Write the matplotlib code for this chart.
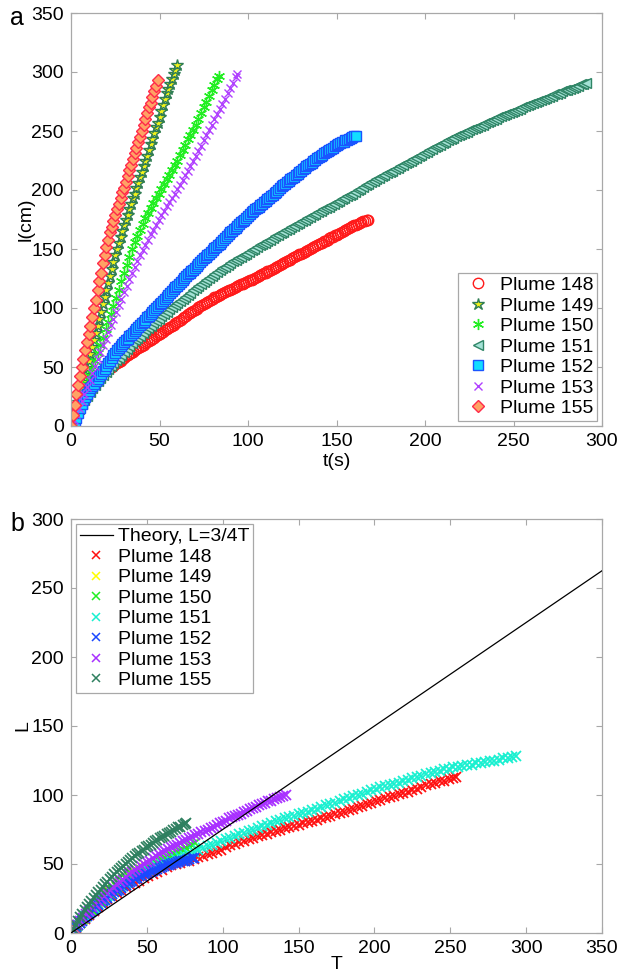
import numpy as np
import matplotlib
matplotlib.use("Agg")
import matplotlib.pyplot as plt

plt.rcParams['font.family'] = ['Liberation Sans', 'DejaVu Sans']
plt.rcParams['font.size'] = 14

# ---------- panel a : l(cm) against t(s) ----------
a148 = [(0, 0), (1, 4), (2, 8), (3, 11.5), (4, 15), (5, 18), (6, 21), (7, 23.5), (8, 26), (9, 28.5),
        (10, 31), (11, 33), (12, 35), (13, 37), (14, 38.5), (15, 40), (16, 41.5), (17, 43), (18, 44), (19, 45.5),
        (20, 46.5), (21, 48), (22, 49), (23, 50), (24, 51), (25, 52.5), (26, 53.5), (27, 54.5), (28, 55.5), (29, 57),
        (30, 58), (31, 59), (32, 60), (33, 61), (34, 62), (35, 63), (36, 64), (37, 65), (38, 66), (39, 67),
        (40, 68), (41, 69), (42, 70), (43, 71), (44, 72), (45, 73), (46, 74), (47, 75), (48, 76), (49, 77),
        (50, 78), (51, 79), (52, 80), (53, 81), (54, 82), (55, 83), (56, 84), (57, 85), (58, 86), (59, 87),
        (60, 88), (61, 89), (62, 90), (63, 91.5), (64, 92.5), (65, 93.5), (66, 94.5), (67, 95.5), (68, 96.5),
        (69, 97.5), (70, 98.5), (71, 99.5), (72, 100.5), (73, 101.5), (74, 102.5), (75, 103.5), (76, 104.5),
        (77, 105), (78, 106), (79, 107), (80, 108), (81, 109), (82, 109.5), (83, 110.5), (84, 111), (85, 112),
        (86, 112.5), (87, 113.5), (88, 114), (89, 115), (90, 115.5), (91, 116.5), (92, 117), (93, 118), (94, 118.5),
        (95, 119.5), (96, 120), (97, 120.5), (98, 121), (99, 122), (100, 122.5), (101, 123.5), (102, 124),
        (103, 125), (104, 125.5), (105, 126.5), (106, 127), (107, 128), (108, 128.5), (109, 129.5), (110, 130),
        (111, 131), (112, 131.5), (113, 132.5), (114, 133), (115, 134), (116, 135), (117, 136), (118, 136.5),
        (119, 137.5), (120, 138), (121, 139), (122, 139.5), (123, 140.5), (124, 141), (125, 142), (126, 143),
        (127, 144), (128, 144.5), (129, 145.5), (130, 146), (131, 147), (132, 147.5), (133, 148.5), (134, 149),
        (135, 150), (136, 151), (137, 152), (138, 152.5), (139, 153.5), (140, 154), (141, 155), (142, 155.5),
        (143, 156.5), (144, 157), (145, 158), (146, 159), (147, 160), (148, 160.5), (149, 161.5), (150, 162),
        (151, 163), (152, 163.5), (153, 164.5), (154, 165), (155, 166), (156, 167), (157, 168), (158, 168.5),
        (159, 169.5), (160, 170), (161, 170.5), (162, 171), (163, 172), (164, 172.5), (165, 173.5), (166, 174),
        (167, 174.5), (168, 175)]

a149 = [(0, 0), (1, 5), (2, 10), (3, 15), (4, 20), (5, 25), (6, 31), (7, 37), (8, 43), (9, 49),
        (10, 55), (11, 61), (12, 67), (13, 73), (14, 79), (15, 85), (16, 91), (17, 97), (18, 103), (19, 109),
        (20, 115), (21, 121), (22, 127), (23, 133), (24, 139), (25, 145), (26, 150), (27, 155), (28, 160), (29, 165),
        (30, 170), (31, 175), (32, 179), (33, 184), (34, 188), (35, 193), (36, 197), (37, 202), (38, 206), (39, 211),
        (40, 215), (41, 220), (42, 225), (43, 229), (44, 234), (45, 239), (46, 243), (47, 248), (48, 253), (49, 257),
        (50, 262), (51, 267), (52, 272), (53, 277), (54, 282), (55, 286), (56, 290), (57, 294), (58, 298), (59, 302),
        (60, 306)]

a150 = [(0, 0), (1.5, 5), (3, 10.5), (4.5, 16), (6, 22), (7.5, 29), (9, 35.5), (10.5, 42), (12, 48.5), (13.5, 55.5),
        (15, 62), (16.5, 68.5), (18, 75), (19.5, 82), (21, 88.5), (22.5, 95), (24, 101.5), (25.5, 108.5),
        (27, 115.5), (28.5, 123), (30, 130), (31.5, 136.5), (33, 143), (34.5, 150), (36, 156), (37.5, 161),
        (39, 166.5), (40.5, 171.5), (42, 176), (43.5, 180.5), (45, 185), (46.5, 189), (48, 193), (49.5, 196.5),
        (51, 201), (52.5, 205), (54, 209), (55.5, 213), (57, 217), (58.5, 221), (60, 225), (61.5, 229.5),
        (63, 234), (64.5, 238.5), (66, 243), (67.5, 247), (69, 251), (70.5, 255.5), (72, 260.5), (73.5, 265),
        (75, 270), (76.5, 275), (78, 279.5), (79.5, 284.5), (81, 289), (82.5, 294), (83.5, 297)]

a151 = [(0, 0), (1.5, 5.5), (3, 10), (4.5, 14.5), (6, 18.5), (7.5, 22), (9, 25.5), (10.5, 29), (12, 32),
        (13.5, 35), (15, 38), (16.5, 41), (18, 43.5), (19.5, 46), (21, 48.5), (22.5, 51), (24, 53.5), (25.5, 56),
        (27, 58), (28.5, 60.5), (30, 63), (31.5, 65.5), (33, 68), (34.5, 70.5), (36, 72.5), (37.5, 74.5),
        (39, 76.5), (40.5, 79), (42, 81), (43.5, 83), (45, 85), (46.5, 87), (48, 89), (49.5, 91), (51, 93),
        (52.5, 95), (54, 97), (55.5, 99), (57, 100.5), (58.5, 102.5), (60, 104), (61.5, 106), (63, 107.5),
        (64.5, 109.5), (66, 111), (67.5, 113), (69, 115), (70.5, 117), (72, 118.5), (73.5, 120.5), (75, 122),
        (76.5, 124), (78, 125.5), (79.5, 127.5), (81, 129), (82.5, 130.5), (84, 132), (85.5, 133.5), (87, 135),
        (88.5, 136.5), (90, 138), (91.5, 139.5), (93, 141), (94.5, 142), (96, 143.5), (97.5, 145), (99, 146),
        (100.5, 147.5), (102, 149), (103.5, 150), (105, 151.5), (106.5, 153), (108, 154), (109.5, 155.5),
        (111, 157), (112.5, 158), (114, 159.5), (115.5, 161), (117, 162), (118.5, 163.5), (120, 164.5),
        (121.5, 166), (123, 167), (124.5, 168.5), (126, 169.5), (127.5, 171), (129, 172), (130.5, 173.5),
        (132, 174.5), (133.5, 176), (135, 177), (136.5, 178.5), (138, 179.5), (139.5, 181), (141, 182),
        (142.5, 183.5), (144, 184.5), (145.5, 186), (147, 187), (148.5, 188.5), (150, 189.5), (151.5, 191),
        (153, 192), (154.5, 193.5), (156, 194.5), (157.5, 196), (159, 197), (160.5, 198.5), (162, 200),
        (163.5, 201), (165, 202.5), (166.5, 204), (168, 205), (169.5, 206.5), (171, 207.5), (172.5, 209),
        (174, 210), (175.5, 211.5), (177, 212.5), (178.5, 214), (180, 215), (181.5, 216.5), (183, 217.5),
        (184.5, 219), (186, 220), (187.5, 221.5), (189, 222.5), (190.5, 224), (192, 225), (193.5, 226.5),
        (195, 227.5), (196.5, 229), (198, 230), (199.5, 231.5), (201, 232.5), (202.5, 234), (204, 235),
        (205.5, 236.5), (207, 237.5), (208.5, 238.5), (210, 239.5), (211.5, 241), (213, 242), (214.5, 243),
        (216, 244), (217.5, 245.5), (219, 246.5), (220.5, 247.5), (222, 248.5), (223.5, 249.5), (225, 250.5),
        (226.5, 251.5), (228, 252.5), (229.5, 253.5), (231, 254.5), (232.5, 255.5), (234, 256.5), (235.5, 257.5),
        (237, 258.5), (238.5, 259.5), (240, 260.5), (241.5, 261.5), (243, 262.5), (244.5, 263.5), (246, 264.5),
        (247.5, 265.5), (249, 266.5), (250.5, 267), (252, 268), (253.5, 269), (255, 270), (256.5, 271),
        (258, 272), (259.5, 273), (261, 274), (262.5, 274.5), (264, 275.5), (265.5, 276.5), (267, 277.5),
        (268.5, 278), (270, 279), (271.5, 280), (273, 281), (274.5, 281.5), (276, 282.5), (277.5, 283.5),
        (279, 284.5), (280.5, 285), (282, 286), (283.5, 286.5), (285, 287.5), (286.5, 288.5), (288, 289.5),
        (289.5, 290), (291, 291)]

a152 = [(1, 0), (2, 3), (3, 7), (4, 11), (5, 15), (6, 18.5), (7, 22), (8, 25), (9, 27.5), (10, 30),
        (11, 32), (12, 34), (13, 36), (14, 38), (15, 40), (16, 42), (17, 44), (18, 46.5), (19, 48.5), (20, 51),
        (21, 53), (22, 55.5), (23, 57.5), (24, 60), (25, 62), (26, 64), (27, 66), (28, 67.5), (29, 69.5), (30, 71),
        (31, 72.5), (32, 74), (33, 76), (34, 77.5), (35, 79), (36, 80.5), (37, 82), (38, 84), (39, 85.5), (40, 87),
        (41, 88.5), (42, 90), (43, 92), (44, 93.5), (45, 95), (46, 96.5), (47, 98), (48, 100), (49, 101.5),
        (50, 103), (51, 104.5), (52, 106), (53, 108), (54, 109.5), (55, 111), (56, 112.5), (57, 114), (58, 116),
        (59, 117.5), (60, 119), (61, 120.5), (62, 122), (63, 124), (64, 125.5), (65, 127), (66, 128.5), (67, 130),
        (68, 131), (69, 132.5), (70, 134), (71, 135.5), (72, 137), (73, 139), (74, 140.5), (75, 142), (76, 143.5),
        (77, 145), (78, 146), (79, 147.5), (80, 149), (81, 150.5), (82, 152), (83, 153), (84, 154.5), (85, 156),
        (86, 157.5), (87, 159), (88, 161), (89, 162.5), (90, 164), (91, 165.5), (92, 167), (93, 168), (94, 169.5),
        (95, 171), (96, 172.5), (97, 174), (98, 175), (99, 176.5), (100, 178), (101, 179.5), (102, 181), (103, 182),
        (104, 183.5), (105, 185), (106, 186), (107, 187.5), (108, 188.5), (109, 190), (110, 191), (111, 192.5),
        (112, 193.5), (113, 195), (114, 196), (115, 197.5), (116, 198.5), (117, 200), (118, 201.5), (119, 203),
        (120, 204), (121, 205.5), (122, 206.5), (123, 208), (124, 209), (125, 210), (126, 211), (127, 212.5),
        (128, 213.5), (129, 215), (130, 216), (131, 217.5), (132, 218.5), (133, 220), (134, 221), (135, 222),
        (136, 223), (137, 224.5), (138, 225.5), (139, 227), (140, 228), (141, 229), (142, 230), (143, 231),
        (144, 232), (145, 233), (146, 234), (147, 235), (148, 236), (149, 237), (150, 238), (151, 239),
        (152, 239.5), (153, 240.5), (154, 241), (155, 242), (156, 242.5), (157, 243.5), (158, 244), (159, 245),
        (160, 245.5), (161, 246)]

a153 = [(0, 0), (1.5, 5), (3, 10), (4.5, 15.5), (6, 21), (7.5, 27), (9, 33), (10.5, 39), (12, 45), (13.5, 51),
        (15, 57), (16.5, 62.5), (18, 68.5), (19.5, 74), (21, 80), (22.5, 85.5), (24, 91), (25.5, 97), (27, 102.5),
        (28.5, 108), (30, 113.5), (31.5, 119), (33, 124.5), (34.5, 129.5), (36, 134.5), (37.5, 139.5), (39, 144.5),
        (40.5, 149), (42, 153.5), (43.5, 158), (45, 162.5), (46.5, 166.5), (48, 170.5), (49.5, 174.5), (51, 178.5),
        (52.5, 182.5), (54, 186.5), (55.5, 190), (57, 193.5), (58.5, 197), (60, 201), (61.5, 204.5), (63, 208.5),
        (64.5, 212.5), (66, 216.5), (67.5, 220.5), (69, 224.5), (70.5, 228.5), (72, 233), (73.5, 237.5), (75, 242),
        (76.5, 246.5), (78, 251), (79.5, 255.5), (81, 260), (82.5, 264), (84, 268.5), (85.5, 273), (87, 277.5),
        (88.5, 282), (90, 286.5), (91.5, 291), (93, 296), (94, 298)]

a155 = [(0, 0), (1, 9), (2, 18), (3, 27), (4, 35), (5, 42), (6, 50), (7, 57), (8, 64), (9, 71),
        (10, 78), (11, 85), (12, 92), (13, 100), (14, 107), (15, 115), (16, 123), (17, 130), (18, 138), (19, 145),
        (20, 152), (21, 158), (22, 164), (23, 169), (24, 174), (25, 179), (26, 184), (27, 188), (28, 193), (29, 198),
        (30, 202), (31, 207), (32, 212), (33, 217), (34, 221), (35, 226), (36, 231), (37, 236), (38, 241), (39, 245),
        (40, 250), (41, 255), (42, 260), (43, 265), (44, 270), (45, 274), (46, 279), (47, 284), (48, 288), (49, 293)]

# ---------- panel b : L against T ----------
theory_T = [0, 350]
theory_L = [0, 262.5]

b148 = [(0, 0), (3, 3.5), (6, 7), (9, 10), (12, 13), (15, 16), (18, 19), (21, 22), (24, 24.5), (27, 26.5),
        (30, 29), (33, 31), (36, 33), (39, 34.5), (42, 36), (45, 38), (48, 40), (51, 41.5), (54, 43), (57, 44.5),
        (60, 46), (63, 47.5), (66, 49), (69, 50), (72, 51), (75, 52), (78, 52.5), (81, 53.5), (84, 55), (87, 56),
        (90, 57), (93, 58), (96, 59.5), (99, 60.5), (102, 62), (105, 63.5), (108, 64.5), (111, 66), (114, 67),
        (117, 68), (120, 69), (123, 70), (126, 71), (129, 72), (132, 73), (135, 74), (138, 75), (141, 76), (144, 77),
        (147, 77.5), (150, 78.5), (153, 79.5), (156, 80.5), (159, 81), (162, 82), (165, 83), (168, 84), (171, 85),
        (174, 86), (177, 87), (180, 88), (183, 89), (186, 90), (189, 91), (192, 92), (195, 93.5), (198, 94.5),
        (201, 95.5), (204, 96.5), (207, 97.5), (210, 98.5), (213, 99.5), (216, 100.5), (219, 101.5), (222, 102.5),
        (225, 103.5), (228, 104.5), (231, 106), (234, 107), (237, 108), (240, 109), (243, 110), (246, 110.5),
        (249, 111.5), (252, 112.5), (254, 113)]

b149 = [(0, 0), (2, 3), (4, 5.5), (6, 8), (8, 10.5), (10, 12.5), (12, 15), (14, 17), (16, 19.5), (18, 21.5),
        (20, 23.5), (22, 25.5), (24, 27.5), (26, 29.5), (28, 31.5), (30, 33.5), (32, 35.5), (34, 37.5), (36, 39.5),
        (38, 41), (40, 42.5), (42, 43.5), (44, 44.5), (46, 46), (48, 47), (50, 48), (52, 49), (54, 50), (56, 51)]

b150 = [(0, 0), (2, 2.5), (4, 5), (6, 7.5), (8, 10), (10, 12), (12, 14.5), (14, 16.5), (16, 19), (18, 21),
        (20, 23), (22, 25), (24, 27), (26, 29), (28, 31), (30, 33), (32, 35), (34, 37), (36, 39), (38, 40.5),
        (40, 42), (42, 43), (44, 44), (46, 45.5), (48, 46.5), (50, 47.5), (52, 48.5), (54, 49.5), (56, 51), (58, 52),
        (60, 53), (62, 54), (64, 55), (66, 56.5), (68, 57.5), (70, 58.5), (72, 59.5), (74, 60.5), (76, 61.5),
        (78, 63), (80, 64), (82, 65)]

b151 = [(0, 0), (3, 4), (6, 8), (9, 12), (12, 15), (15, 18), (18, 21), (21, 24), (24, 26.5), (27, 28.5),
        (30, 31), (33, 33.5), (36, 36), (39, 38), (42, 40), (45, 42), (48, 44), (51, 45.5), (54, 47), (57, 48.5),
        (60, 50), (63, 51), (66, 52.5), (69, 53.5), (72, 55), (75, 56), (78, 57), (81, 58.5), (84, 60), (87, 61.5),
        (90, 63), (93, 64), (96, 65.5), (99, 66.5), (102, 68), (105, 69), (108, 70), (111, 71.5), (114, 72.5),
        (117, 74), (120, 75), (123, 76), (126, 77.5), (129, 78.5), (132, 79.5), (135, 81), (138, 82), (141, 83),
        (144, 84), (147, 85), (150, 86), (153, 87), (156, 88), (159, 89), (162, 90), (165, 91.5), (168, 92.5),
        (171, 93.5), (174, 94.5), (177, 96), (180, 97), (183, 98), (186, 99), (189, 100), (192, 101), (195, 102.5),
        (198, 103.5), (201, 104.5), (204, 105.5), (207, 106.5), (210, 107), (213, 108), (216, 109), (219, 110),
        (222, 111), (225, 112), (228, 113), (231, 114), (234, 115), (237, 116), (240, 117), (243, 117.5),
        (246, 118.5), (249, 119), (252, 120), (255, 120.5), (258, 121), (261, 121.5), (264, 122), (267, 123),
        (270, 123.5), (273, 124), (276, 124.5), (279, 125), (282, 125.5), (285, 126.5), (288, 127), (291, 127.5),
        (293, 128)]

b152 = [(0, 0), (1.5, 2), (3, 4), (4.5, 5.5), (6, 7.5), (7.5, 9), (9, 11), (10.5, 12.5), (12, 14), (13.5, 15.5),
        (15, 17), (16.5, 18.5), (18, 20), (19.5, 21.5), (21, 23), (22.5, 24), (24, 25.5), (25.5, 26.5), (27, 28),
        (28.5, 29.5), (30, 30.5), (31.5, 31.5), (33, 32.5), (34.5, 34), (36, 35), (37.5, 36), (39, 37), (40.5, 38),
        (42, 39), (43.5, 40), (45, 41), (46.5, 41.5), (48, 42.5), (49.5, 43), (51, 43.5), (52.5, 44.5), (54, 45),
        (55.5, 46), (57, 46.5), (58.5, 47), (60, 48), (61.5, 48.5), (63, 49), (64.5, 49.5), (66, 50), (67.5, 50.5),
        (69, 51), (70.5, 51.5), (72, 52), (73.5, 52.5), (75, 52.5), (76.5, 53), (78, 53.5), (79.5, 54), (81, 54.5)]

b153 = [(0, 0), (2, 3), (4, 5.5), (6, 8.5), (8, 11), (10, 13.5), (12, 16), (14, 18.5), (16, 21), (18, 23),
        (20, 25), (22, 27), (24, 29), (26, 31), (28, 33), (30, 35), (32, 37), (34, 38.5), (36, 40.5), (38, 42.5),
        (40, 44), (42, 45.5), (44, 47), (46, 48.5), (48, 50), (50, 51.5), (52, 52.5), (54, 54), (56, 55.5), (58, 57),
        (60, 58.5), (62, 59.5), (64, 61), (66, 62), (68, 63), (70, 64), (72, 65), (74, 66.5), (76, 67.5), (78, 68.5),
        (80, 69.5), (82, 71), (84, 72), (86, 73), (88, 74), (90, 75), (92, 76), (94, 77), (96, 78.5), (98, 79.5),
        (100, 80.5), (102, 81.5), (104, 83), (106, 84), (108, 85), (110, 85.5), (112, 86.5), (114, 87.5),
        (116, 88.5), (118, 89.5), (120, 90.5), (122, 91.5), (124, 92.5), (126, 93.5), (128, 94.5), (130, 95.5),
        (132, 96), (134, 97), (136, 97.5), (138, 98.5), (140, 99), (142, 100)]

b155 = [(0, 0), (1.5, 3), (3, 6), (4.5, 9), (6, 11.5), (7.5, 14), (9, 16.5), (10.5, 18.5), (12, 21), (13.5, 23),
        (15, 25.5), (16.5, 27.5), (18, 29.5), (19.5, 31.5), (21, 33.5), (22.5, 35.5), (24, 37), (25.5, 39),
        (27, 40.5), (28.5, 42.5), (30, 44), (31.5, 45.5), (33, 47), (34.5, 48.5), (36, 50), (37.5, 51.5), (39, 53),
        (40.5, 54.5), (42, 55.5), (43.5, 57), (45, 58), (46.5, 59.5), (48, 60.5), (49.5, 62), (51, 63), (52.5, 64),
        (54, 65), (55.5, 66.5), (57, 67.5), (58.5, 68.5), (60, 69.5), (61.5, 70.5), (63, 71.5), (64.5, 72.5),
        (66, 73.5), (67.5, 74.5), (69, 75.5), (70.5, 76.5), (72, 77), (73.5, 78), (75, 79), (76, 79.5)]

labels = ['Plume 148', 'Plume 149', 'Plume 150', 'Plume 151', 'Plume 152', 'Plume 153', 'Plume 155']

# marker styles of panel a: (data, marker, edge colour, face colour, size)
styles_a = [
    (a148, 'o', '#ff1a1a', 'none', 7.5),
    (a149, '*', '#2f7d55', '#f2f21a', 9),
    (a150, (6, 2, 0), '#22ee22', '#22ee22', 8),
    (a151, '<', '#2f8566', '#a4e2d6', 7.5),
    (a152, 's', '#1a55ff', '#11ddff', 6.5),
    (a153, 'x', '#b040ff', '#b040ff', 6),
    (a155, 'D', '#ff2a4a', '#ffa264', 6.5),
]
colors_b = ['#ff1010', '#ffff00', '#22ee22', '#18f0d0', '#1a48ff', '#a830ff', '#2f8060']
data_b = [b148, b149, b150, b151, b152, b153, b155]

grey = '#a8a8a8'


def style_axes(ax):
    for s in ax.spines.values():
        s.set_color(grey)
        s.set_linewidth(0.9)
    ax.tick_params(direction='in', top=True, right=True, length=4, width=0.8,
                   color=grey, labelcolor='black', labelsize=14, pad=5)


fig = plt.figure(figsize=(6.21, 9.73), dpi=100)
W, H = 621.0, 973.0
ax1 = fig.add_axes([71 / W, 1 - 426 / H, 531 / W, 413 / H])
ax2 = fig.add_axes([71 / W, 1 - 933 / H, 531 / W, 414 / H])

for (pts, mk, ec, fc, ms), lab in zip(styles_a, labels):
    t, l = np.array(pts, dtype=float).T
    ax1.plot(t, l, linestyle='none', marker=mk, markersize=ms, markeredgecolor=ec,
             markerfacecolor=fc, markeredgewidth=1.0, label=lab)

ax1.set_xlim(0, 300)
ax1.set_ylim(0, 350)
ax1.set_xticks(range(0, 301, 50))
ax1.set_yticks(range(0, 351, 50))
style_axes(ax1)
ax1.set_xlabel('t(s)', labelpad=2)
ax1.set_ylabel('l(cm)')
ax1.yaxis.set_label_coords(-0.068, 0.5)
leg1 = ax1.legend(loc='lower right', borderaxespad=0.25, borderpad=0.2, labelspacing=0.15,
                  handlelength=1.7, handletextpad=0.25, fancybox=False, framealpha=1,
                  edgecolor=grey, fontsize=14, numpoints=1)
leg1.get_frame().set_linewidth(0.9)

ax2.plot(theory_T, theory_L, color='black', linewidth=0.9, label='Theory, L=3/4T', zorder=3)
for pts, c, lab in zip(data_b, colors_b, labels):
    t, l = np.array(pts, dtype=float).T
    ax2.plot(t, l, linestyle='none', marker='x', markersize=7, markeredgewidth=1.3,
             color=c, label=lab)

ax2.set_xlim(0, 350)
ax2.set_ylim(0, 300)
ax2.set_xticks(range(0, 351, 50))
ax2.set_yticks(range(0, 301, 50))
style_axes(ax2)
ax2.set_xlabel('T', labelpad=-1)
ax2.set_ylabel('L')
ax2.yaxis.set_label_coords(-0.075, 0.5)
leg2 = ax2.legend(loc='upper left', borderaxespad=0.25, borderpad=0.2, labelspacing=0.15,
                  handlelength=1.7, handletextpad=0.25, fancybox=False, framealpha=1,
                  edgecolor=grey, fontsize=14, numpoints=1)
leg2.get_frame().set_linewidth(0.9)
for h in leg2.legend_handles[1:]:
    h.set_markersize(6)
    h.set_markeredgewidth(1.1)

fig.text(10 / W, 1 - 25 / H, 'a', fontsize=18, ha='left', va='baseline')
fig.text(10 / W, 1 - 531 / H, 'b', fontsize=18, ha='left', va='baseline')

fig.savefig('out.png', dpi=100)
